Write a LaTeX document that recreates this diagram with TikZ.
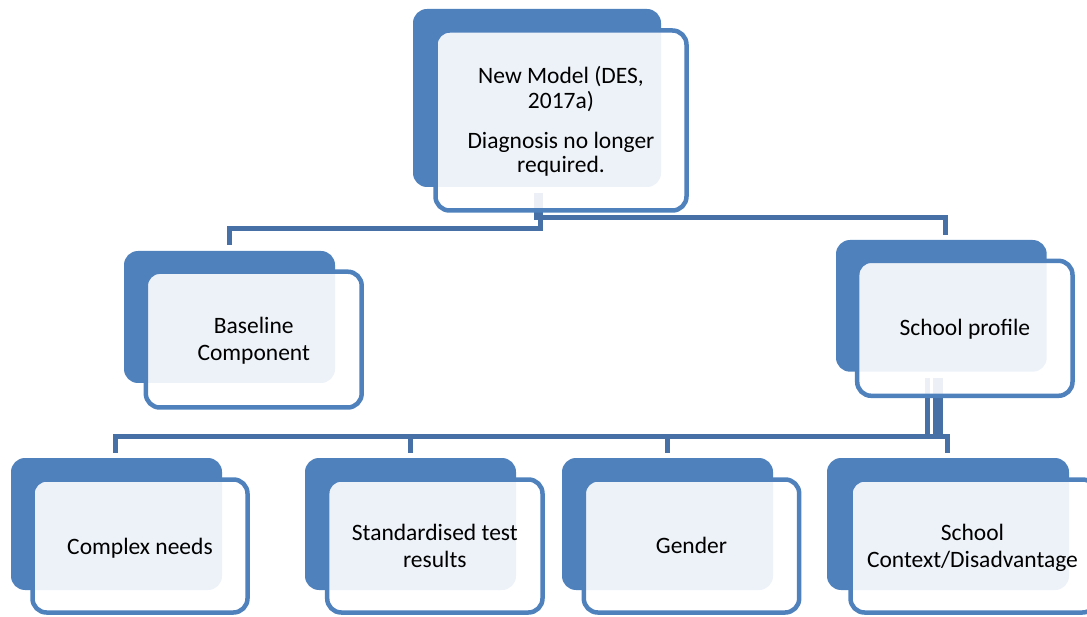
\documentclass[tikz,border=0pt]{standalone}
\usepackage{fontspec}
\setmainfont{Carlito}
\definecolor{accent}{RGB}{79,129,189}
\definecolor{linkc}{RGB}{70,112,166}
\pgfdeclarelayer{links}
\pgfsetlayers{links,main}
\begin{document}
\begin{tikzpicture}[x=1pt,y=-1pt,
  backbox/.style={rectangle, rounded corners=14pt, fill=accent, draw=none,
    inner sep=0pt, outer sep=0pt},
  frontbox/.style={rectangle, rounded corners=14pt, fill=white, fill opacity=0.9,
    draw=accent, draw opacity=1, line width=4.5pt, inner sep=0pt, outer sep=0pt},
  txt/.style={font=\fontsize{23.5}{27}\selectfont, align=center, text=black,
    inner sep=0pt},
  conn/.style={draw=linkc, line width=4.5pt}]
\useasboundingbox (0,0) rectangle (1087,617);
\clip (0,0) rectangle (1087,617);

% rails of the connectors
\coordinate (railA) at (0,228.5);
\coordinate (railB) at (0,217.5);
\coordinate (railC) at (0,436.5);

% back (solid) boxes
\node[backbox, minimum width=248pt, minimum height=178pt] (topB) at (537,98) {};
\node[backbox, minimum width=211pt, minimum height=132pt] (baseB) at (229.5,317) {};
\node[backbox, minimum width=210.7pt, minimum height=131.7pt] (profB) at (941.35,305.85) {};
\node[backbox, minimum width=211pt, minimum height=132pt] (cplxB) at (116.5,524) {};
\node[backbox, minimum width=211pt, minimum height=132pt] (stdB) at (410.5,524) {};
\node[backbox, minimum width=211pt, minimum height=132pt] (gendB) at (667.5,524) {};
\node[backbox, minimum width=242pt, minimum height=132pt] (ctxB) at (948,524) {};

% connectors, kept underneath all boxes
\begin{pgfonlayer}{links}
\draw[conn] ([xshift=3.5pt,yshift=-6pt]topB.south)
  |- (baseB.north |- railA) -- ([yshift=6pt]baseB.north);
\draw[conn] ([xshift=-0.5pt,yshift=-6pt]topB.south)
  |- ([xshift=4.15pt]profB.north |- railB) -- ([xshift=4.15pt,yshift=5pt]profB.north);
\draw[conn] ([xshift=-13.85pt,yshift=-6.3pt]profB.south)
  |- ([xshift=-1pt]cplxB.north |- railC) -- ([xshift=-1pt,yshift=5pt]cplxB.north);
\draw[conn] ([xshift=-6.35pt,yshift=-6.3pt]profB.south)
  |- (stdB.north |- railC) -- ([yshift=5pt]stdB.north);
\draw[conn] ([xshift=-2.85pt,yshift=-6.3pt]profB.south)
  |- (gendB.north |- railC) -- ([yshift=5pt]gendB.north);
\draw[conn] ([xshift=-0.35pt,yshift=-6.3pt]profB.south)
  |- ([xshift=-0.5pt]ctxB.north |- railC) -- ([xshift=-0.5pt,yshift=5pt]ctxB.north);
\end{pgfonlayer}

% front (outlined, translucent) boxes
\node[frontbox, minimum width=251pt, minimum height=180pt] (topF) at (561,120.5) {};
\node[frontbox, minimum width=215.9pt, minimum height=135.8pt] (baseF) at (253.75,339.6) {};
\node[frontbox, minimum width=215.3pt, minimum height=135pt] (profF) at (964.85,328.3) {};
\node[frontbox, minimum width=215pt, minimum height=133pt] (cplxF) at (140,546) {};
\node[frontbox, minimum width=215.3pt, minimum height=133pt] (stdF) at (434.85,546) {};
\node[frontbox, minimum width=215.4pt, minimum height=133pt] (gendF) at (691.5,546) {};
\node[frontbox, minimum width=246pt, minimum height=133pt] (ctxF) at (973.5,546) {};

% labels
\node[txt, font=\fontsize{23.5}{24.5}\selectfont] (topT) at (561,121.7)
  {New Model (DES,\\ 2017a)\\[15.5pt] Diagnosis no longer\\ required.};
\node[txt] (baseT) at (253.75,340.6) {Baseline\\ Component};
\node[txt, anchor=base] (profT) at (964.85,336) {School profile};
\node[txt, anchor=base] (cplxT) at (140,554) {Complex needs};
\node[txt] (stdT) at (434.85,545.8) {Standardised test\\ results};
\node[txt, anchor=base] (gendT) at (691.5,553) {Gender};
\node[txt] (ctxT) at (972.5,548.3) {School\\ Context/Disadvantage};
\end{tikzpicture}
\end{document}
